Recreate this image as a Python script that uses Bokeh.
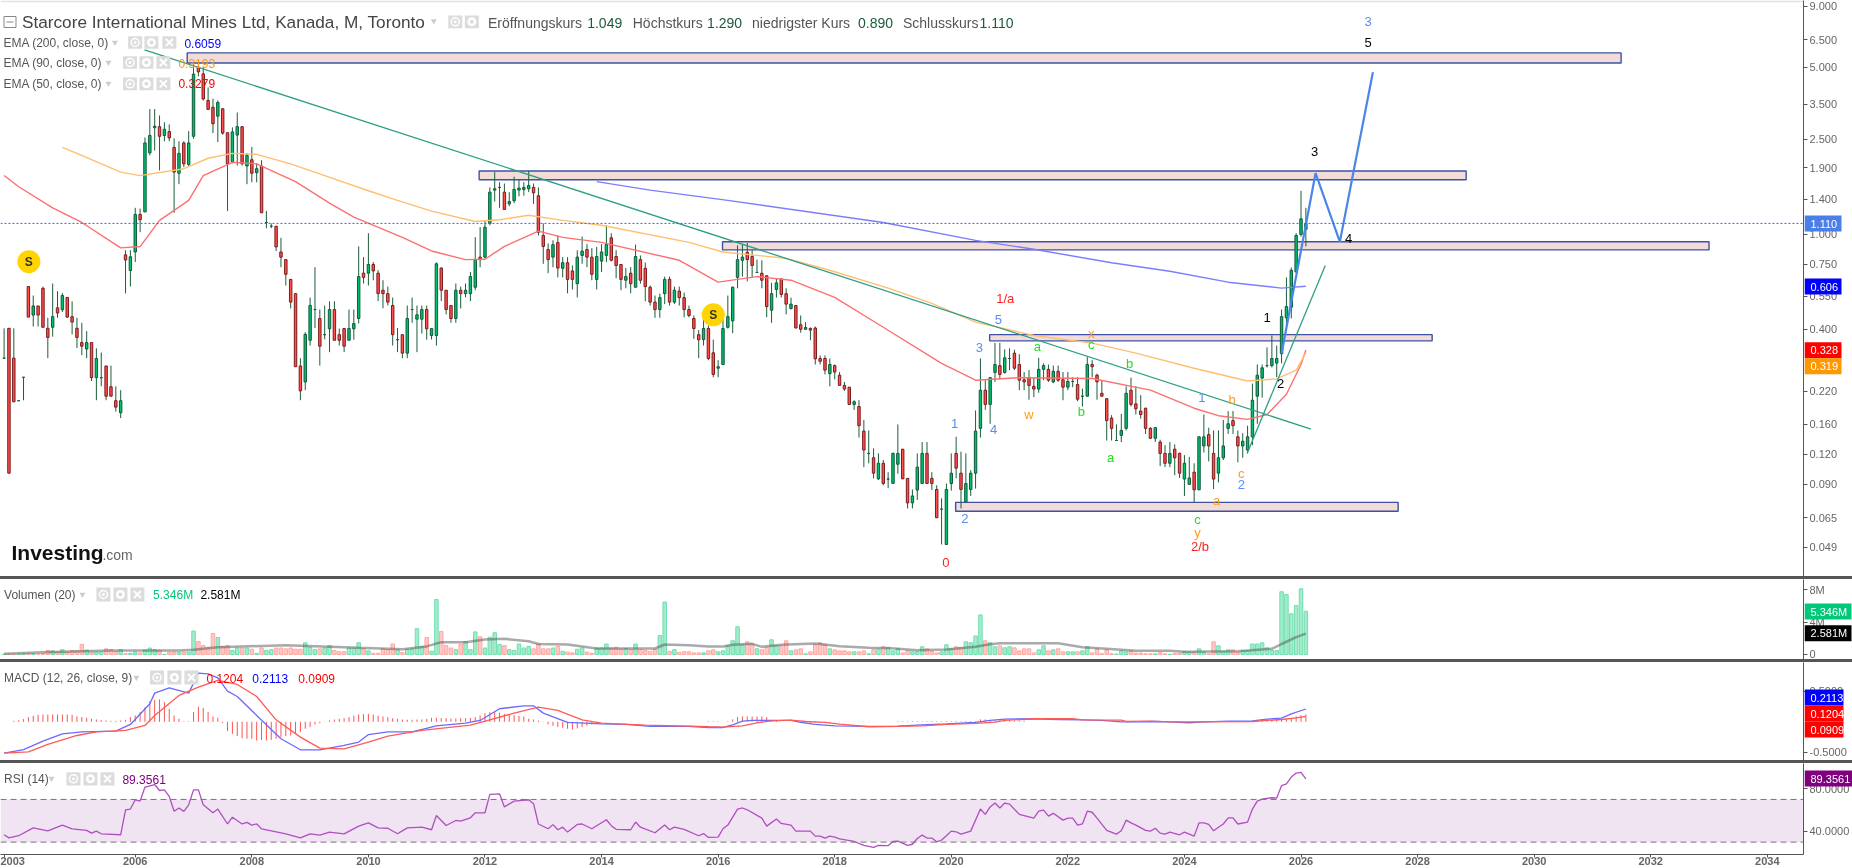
from bokeh.embed import file_html
from bokeh.resources import INLINE
from bokeh.plotting import figure
from bokeh.layouts import column
from bokeh.models import (ColumnDataSource, Range1d, LinearScale, FixedTicker, PrintfTickFormatter,
                          Label, Span, Div, BoxAnnotation)
from bokeh.core.properties import value

# ---------- monthly candles (bar number, one value per month) ----------
opens = [.303,.404,.303,.201,.252,.604,.459,.501,.594,.404,
 .408,.492,.483,.544,.452,.404,.352,.331,.352,.251,
 .251,.281,.230,.201,.179,.820,.705,.843,1.21,1.24,
 2.19,2.79,2.82,2.59,2.69,2.31,1.80,2.41,1.96,2.57,
 5.00,4.69,3.63,3.40,3.12,3.35,2.66,2.01,2.60,2.82,
 1.93,2.05,1.81,1.93,1.12,1.08,1.08,.843,.783,.647,
 .564,.281,.241,.360,.484,.444,.380,.402,.484,.380,
 .403,.360,.402,.444,.687,.687,.747,.687,.583,.564,
 .503,.362,.380,.318,.484,.441,.441,.484,.377,.377,
 .722,.583,.503,.444,.583,.564,.564,.600,.802,.802,
 1.11,1.53,1.57,1.50,1.34,1.38,1.53,1.54,1.55,1.57,
 1.45,.988,.863,.802,.923,.720,.760,.702,.621,.815,
 .863,.802,.647,.772,.815,.966,.807,.747,.642,.687,
 .600,.783,.720,.600,.520,.484,.564,.647,.520,.578,
 .543,.484,.444,.380,.362,.403,.319,.275,.285,.408,
 .434,.660,.778,.840,.807,.692,.687,.670,.481,.587,
 .650,.564,.489,.503,.418,.400,.403,.405,.302,.302,
 .261,.282,.257,.233,.229,.194,.190,.150,.121,.116,
 .0947,.110,.0945,.0906,.109,.126,.0951,.0751,.085,.0906,
 .121,.0951,.0855,.0707,.0503,.0905,.121,.100,.0759,.0855,
 .100,.154,.2225,.194,.264,.282,.264,.302,.318,.285,
 .246,.251,.231,.225,.272,.272,.241,.267,.246,.229,
 .242,.235,.210,.210,.285,.257,.216,.205,.170,.137,
 .144,.154,.2225,.195,.182,.187,.154,.140,.135,.121,
 .110,.126,.121,.0945,.0898,.101,.0852,.130,.145,.121,
 .100,.116,.154,.166,.142,.130,.125,.142,.210,.250,
 .282,.282,.289,.316,.447,.495,.695,.998,1.049]
highs = [.404,.404,.404,.201,.252,.604,.554,.501,.604,.447,
 .622,.577,.567,.544,.524,.447,.426,.393,.352,.333,
 .320,.281,.282,.231,.2225,.857,.857,1.29,1.28,2.54,
 3.34,3.34,3.14,2.94,2.88,2.52,2.45,2.45,2.70,5.16,
 5.24,5.00,4.11,3.69,3.63,3.36,2.66,2.80,3.23,2.82,
 2.18,2.32,1.98,2.04,1.25,1.11,1.08,.966,.783,.649,
 .566,.303,.389,.543,.728,.484,.503,.524,.524,.403,
 .403,.484,.484,.890,.802,1.01,.765,.707,.642,.604,
 .543,.405,.380,.503,.543,.503,.503,.503,.404,.762,
 .725,.583,.503,.622,.604,.622,.695,.972,1.07,1.14,
 1.57,1.82,1.65,1.63,1.50,1.74,1.70,1.65,1.84,1.63,
 1.57,1.11,.915,.943,.988,.802,.802,.740,.857,.978,
 .909,.875,.885,.909,1.09,1.01,.857,.749,.722,.728,
 .905,.815,.762,.610,.554,.564,.665,.665,.604,.604,
 .570,.503,.457,.397,.444,.415,.362,.297,.465,.554,
 .604,.898,.909,.920,.857,.783,.778,.672,.626,.654,
 .654,.594,.543,.503,.457,.429,.408,.411,.311,.311,
 .302,.285,.265,.241,.229,.202,.202,.167,.151,.127,
 .121,.1135,.101,.122,.160,.126,.0951,.0855,.121,.135,
 .135,.101,.089,.0785,.0905,.121,.142,.123,.121,.103,
 .183,.302,.245,.252,.351,.351,.330,.333,.329,.315,
 .265,.270,.251,.304,.288,.285,.282,.282,.265,.265,
 .252,.252,.226,.306,.297,.261,.243,.206,.175,.160,
 .177,.231,.251,.231,.212,.188,.156,.156,.138,.131,
 .135,.132,.122,.119,.117,.110,.142,.176,.155,.151,
 .151,.167,.182,.182,.151,.147,.158,.237,.285,.285,
 .336,.377,.342,.484,.660,.725,1.01,1.52,1.29]
lows = [.303,.100,.199,.201,.202,.450,.411,.411,.408,.303,
 .373,.447,.473,.447,.381,.334,.312,.303,.243,.202,
 .231,.202,.210,.181,.170,.566,.605,.765,1.02,1.24,
 2.14,2.24,1.85,2.45,2.45,1.23,1.62,1.91,1.92,2.51,
 4.58,3.63,3.32,2.65,2.43,2.61,1.25,1.98,1.94,1.94,
 1.62,1.65,1.65,1.23,1.06,1.06,.851,.728,.610,.489,
 .279,.202,.2225,.342,.405,.282,.363,.321,.360,.342,
 .321,.360,.362,.423,.622,.610,.642,.525,.490,.503,
 .342,.321,.303,.303,.426,.321,.384,.362,.363,.342,
 .525,.462,.426,.426,.489,.544,.525,.583,.728,.790,
 1.09,1.37,1.29,1.27,1.31,1.35,1.44,1.45,1.50,1.34,
 .988,.752,.687,.728,.660,.660,.566,.587,.544,.752,
 .728,.642,.587,.695,.765,.770,.655,.583,.594,.566,
 .600,.621,.524,.503,.447,.447,.510,.503,.510,.503,
 .449,.449,.365,.303,.342,.297,.252,.252,.285,.403,
 .385,.594,.665,.635,.660,.692,.594,.450,.426,.543,
 .544,.462,.484,.405,.387,.400,.360,.285,.285,.259,
 .231,.247,.233,.221,.194,.184,.141,.106,.110,.0951,
 .0936,.089,.0865,.0906,.0995,.0947,.0712,.0712,.0772,.0906,
 .0906,.085,.0651,.0503,.0503,.0845,.0951,.0712,.0759,.0803,
 .0862,.141,.184,.161,.241,.247,.261,.270,.270,.2225,
 .2225,.203,.208,.217,.245,.241,.238,.241,.202,.2225,
 .229,.200,.190,.210,.252,.203,.210,.137,.137,.137,
 .135,.151,.190,.176,.169,.146,.139,.135,.107,.106,
 .106,.098,.0955,.0803,.0898,.0755,.0852,.122,.112,.0858,
 .0915,.1135,.146,.146,.111,.116,.121,.131,.161,.207,
 .277,.277,.252,.288,.403,.444,.693,.978,.89]
closes = [.303,.100,.199,.201,.252,.450,.501,.459,.408,.370,
 .452,.468,.554,.450,.429,.370,.340,.352,.251,.302,
 .251,.210,.210,.189,.201,.780,.805,1.21,1.15,2.41,
 2.59,2.83,2.57,2.75,2.53,1.82,2.18,1.97,2.41,4.68,
 4.78,3.68,3.33,2.90,3.56,2.65,1.97,2.68,2.82,1.97,
 2.14,1.80,1.88,1.23,1.12,1.08,.885,.802,.680,.520,
 .279,.221,.381,.503,.484,.340,.380,.484,.360,.360,
 .340,.403,.423,.665,.660,.747,.702,.564,.564,.520,
 .380,.362,.318,.444,.484,.460,.484,.402,.403,.752,
 .583,.484,.444,.583,.564,.583,.665,.783,.783,1.07,
 1.50,1.55,1.57,1.27,1.37,1.54,1.56,1.57,1.60,1.49,
 1.02,.889,.783,.905,.722,.760,.647,.647,.802,.850,
 .802,.680,.807,.843,.905,.778,.740,.647,.665,.621,
 .807,.642,.604,.520,.484,.543,.647,.520,.583,.543,
 .484,.457,.403,.362,.403,.302,.259,.279,.403,.452,
 .600,.783,.802,.783,.740,.692,.642,.498,.564,.626,
 .560,.510,.510,.405,.400,.407,.397,.301,.294,.270,
 .285,.265,.233,.225,.194,.199,.158,.125,.121,.100,
 .110,.0906,.0945,.121,.121,.0947,.0751,.0803,.106,.121,
 .0906,.0906,.0651,.0707,.0855,.100,.105,.0855,.0905,.100,
 .150,.2225,.194,.251,.285,.259,.304,.302,.275,.245,
 .241,.233,.225,.272,.282,.245,.267,.245,.229,.242,
 .242,.204,.210,.285,.279,.241,.210,.166,.154,.137,
 .151,.216,.194,.186,.176,.154,.140,.155,.121,.110,
 .121,.116,.100,.110,.0955,.0852,.142,.142,.130,.0945,
 .116,.130,.161,.158,.130,.136,.142,.202,.257,.276,
 .282,.302,.302,.452,.498,.707,.988,1.16,1.11]

# ---------- moving averages: (bar, price) vertices ----------
ema50_bar = [0,3,10,16,24,28,32,38,41,47,52,60,67,72,82,88,95,99,103,110,115,123,139,147,155,162,171,181,193,200,209,224,236,245,250,256,260,264,267,268]
ema50_val = [1.76,1.58,1.29,1.12,.877,.888,1.143,1.386,1.76,2.0,1.97,1.66,1.35,1.18,.97,.851,.783,.786,.889,1.03,.97,.925,.778,.63,.665,.642,.544,.408,.288,.245,.251,.249,.2225,.187,.174,.168,.176,.214,.285,.328]
ema90_bar = [12,15,24,28,37,42,47,52,59,66,75,81,88,97,102,108,115,123,141,148,161,170,182,191,200,212,224,233,245,256,262,266,268]
ema90_val = [2.31,2.18,1.82,1.76,1.88,2.08,2.18,2.16,1.97,1.76,1.52,1.386,1.25,1.13,1.15,1.20,1.143,1.09,.925,.843,.793,.707,.595,.514,.429,.377,.35,.318,.275,.243,.248,.27,.319]
ema200_bar = [122,133,149,181,200,212,228,240,252,263,268]
ema200_val = [1.66,1.53,1.386,1.12,.943,.865,.76,.70,.63,.595,.606]

# ---------- drawn objects ----------
zone_start = [37.7,97.8,147.9,202.9,195.9]
zone_end = [332.9,301,351,294,287]
zone_top = [5.74,1.84,.93,.38,.0755]
zone_bottom = [5.21,1.69,.86,.358,.0693]
down_trend_bar = [28.9,269.05]
down_trend_val = [5.91,.153]
up_trend_bar = [255.9,272]
up_trend_val = [.121,.74]
path_bar = [263,270,275,281.8]
path_val = [.317,1.80,.93,4.76]
wave_text = ["1/a","5","3","a","x","c","b","w","b","a","1","1","4","2","0","a","c","y","2/b","b","c","2","2","3","5","3","4","1"]
wave_bar = [206.1,204.7,200.8,212.7,223.8,223.8,231.7,211,221.8,227.8,246.6,195.7,203.7,197.8,193.9,249.6,245.7,245.7,246.2,252.8,254.7,254.7,262.8,280.8,280.8,269.8,276.8,260]
wave_val = [.536,.44,.336,.339,.383,.344,.288,.176,.181,.116,.207,.161,.152,.0645,.0421,.0772,.064,.0566,.0493,.204,.0995,.09,.237,7.79,6.33,2.22,.963,.447]
wave_color = ["#ff2020","#5b8def","#5b8def","#22e022","#ff9a1a","#22e022","#22e022","#ff9a1a","#22e022","#22e022","#5b8def","#5b8def","#5b8def","#5b8def","#ff2020","#ff9a1a","#22e022","#ff9a1a","#ff2020","#ff9a1a","#ff9a1a","#5b8def","#000000","#5b8def","#000000","#000000","#000000","#000000"]
signal_bar = [5.1,146]
signal_val = [.768,.46]
last_price = 1.11

# ---------- volume (millions) ----------
volumes = [.05,.05,.04,.04,.08,.1,.1,.06,.12,.5,
 .45,.3,.6,.3,.5,.45,1.25,.55,.3,.3,
 .3,.7,.6,.35,.6,.1,.15,.3,.2,.55,
 .8,.6,.5,.02,.25,.3,.25,.3,.3,2.9,
 1.6,1.1,.9,2.6,2.1,1.0,1.1,.5,.8,.8,
 .8,.65,.15,.8,.5,.6,.8,.8,.7,.8,
 .65,.65,1.45,.9,.6,.7,.8,1.1,.5,.35,
 .35,.8,.8,1.45,.7,.45,.15,.15,.7,.6,
 1.3,.6,.25,.65,.7,3.2,1.0,2.1,.4,6.8,
 2.85,1.1,.8,.6,1.25,1.6,.6,2.8,2.2,.8,
 2.15,2.7,1.25,1.1,.6,.5,1.3,.8,1.0,.7,
 1.3,.7,.7,.8,1.0,.4,.3,.2,.65,.8,
 .3,.15,.8,.8,1.3,.8,.9,.65,.75,.6,
 1.3,.6,.5,.4,.65,2.35,6.5,.4,.6,.25,
 .35,.33,.2,.2,.2,.45,.58,.33,.45,1.07,
 1.7,3.43,1.2,1.57,1.32,.7,.58,.87,1.82,1.1,
 1.07,1.7,.45,.58,.7,.08,.33,1.2,1.45,1.2,
 .7,.58,.45,.45,.33,.33,.33,.45,.08,.62,
 .66,.95,.83,.45,.7,.2,.45,.33,.33,.95,
 .7,.37,.2,.33,1.2,.7,.95,.87,1.57,1.45,
 2.3,4.9,1.7,1.45,.95,1.07,.83,.95,.83,.45,
 .7,.7,.2,.58,1.07,.45,.58,.7,.33,.33,
 .33,.33,.45,.95,.2,.7,.1,.58,.1,.05,
 .45,.33,.45,.17,.17,.08,.08,.08,.25,.08,
 .03,.15,.15,.37,.3,.3,.7,.3,.08,1.57,
 1.07,.4,.58,.58,.25,.5,.5,1.3,1.3,1.45,
 .83,.5,.5,7.77,7.44,5.04,6.07,8.14,5.346]
vol_avg_bar = [0,8,22,36,39,44,58,73,82,87,90,95,99,103,108,110,116,122,134,136,141,145,148,150,154,156,160,167,172,178,182,188,194,200,203,205,217,222,227,233,240,243,254,261,263,266,268]
vol_avg_val = [.08,.28,.5,.5,.58,.9,1.15,.83,.66,1.0,1.53,1.53,1.86,1.94,1.65,1.3,1.24,.74,.74,1.24,1.16,1.0,1.0,1.2,1.32,.95,1.2,1.36,1.03,.83,.79,.54,.62,.95,1.28,1.4,1.4,.9,.7,.45,.45,.33,.4,.7,1.3,2.15,2.581]

# ---------- MACD ----------
macd_bar = [0,4,8,12,16,23,26,30,31,34,38,40,42,44,46,48,52,57,61,65,70,73,75,79,84,89,95,98,102,107,109,111,116,123,128,133,141,145,148,150,152,154,158,162,164,167,171,178,184,189,194,200,203,206,212,217,222,226,230,237,240,244,246,252,257,260,263,265,268]
macd_val = [-.517,-.46,-.32,-.2,-.165,-.154,-.044,.297,.473,.561,.473,.803,.792,.726,.506,.418,.105,-.28,-.462,-.462,-.39,-.335,-.21,-.165,-.165,-.066,-.022,.022,.215,.264,.264,.143,-.011,-.033,-.044,-.077,-.077,-.094,-.094,-.05,.011,.022,.022,.022,-.011,-.044,-.066,-.077,-.072,-.05,-.033,-.011,.022,.044,.05,.038,.033,.022,0,.005,0,-.016,-.005,.011,.016,.044,.06,.13,.2113]
sig_bar = [0,5,9,15,19,25,29,31,36,40,44,48,52,56,61,65,70,75,79,86,96,100,105,110,114,119,123,132,141,145,148,152,155,158,162,165,169,172,178,184,189,194,200,204,206,212,220,222,230,231,236,240,244,257,260,263,266,268]
sig_val = [-.517,-.495,-.374,-.226,-.165,-.143,-.06,.105,.435,.572,.682,.616,.418,.033,-.253,-.435,-.446,-.335,-.237,-.143,-.055,.033,.143,.242,.187,.033,-.022,-.055,-.07,-.082,-.088,-.066,-.016,.016,.027,.005,-.011,-.038,-.082,-.077,-.066,-.044,-.027,-.005,.022,.05,.05,.033,.027,.005,.011,0,0,.005,.022,.038,.066,.0909]
hist_val = [0,0,.016,.027,.044,.077,.1,.115,.12,.12,
 .12,.12,.12,.12,.115,.09,.08,.066,.05,.038,
 .027,.022,.016,.016,.022,.033,.077,.105,.16,.24,
 .34,.36,.37,.325,.215,.105,.05,.01,.01,.16,
 .25,.23,.16,.088,.066,-.022,-.154,-.2,-.237,-.27,
 -.28,-.28,-.31,-.3,-.31,-.3,-.28,-.25,-.237,-.225,
 -.2,-.17,-.115,-.088,-.044,-.022,-.005,.022,.038,.05,
 .06,.077,.1,.12,.126,.13,.12,.1,.088,.077,
 .06,.05,.038,.033,.033,.038,.038,.05,.066,.066,
 .06,.06,.055,.055,.06,.06,.066,.077,.105,.143,
 .16,.176,.15,.13,.12,.11,.1,.088,.05,.038,
 .02,-.005,-.044,-.066,-.088,-.1,-.115,-.127,-.11,-.088,
 -.066,-.044,-.022,0,0,0,0,0,0,.005,
 0,0,0,.005,.005,.005,0,0,0,0,
 0,0,0,0,0,.01,.01,.01,0,.01,
 .04,.077,.088,.088,.088,.088,.088,.077,.03,.02,
 0,0,0,0,0,-.015,-.015,-.015,-.015,-.02,
 -.02,-.005,-.005,-.005,-.005,-.005,-.005,-.005,-.005,0,
 0,0,0,0,.01,.01,.01,.01,.01,.01,
 .01,.01,.01,.01,.01,.01,.01,.01,.01,.01,
 .01,.04,.04,.025,.025,.025,.025,.025,.02,.02,
 .02,0,0,0,0,0,0,0,0,0,
 0,0,0,0,0,0,0,0,0,0,
 0,0,0,0,0,0,0,0,0,0,
 0,0,0,0,0,0,0,0,.01,.01,
 .01,.01,.01,0,0,0,0,0,.02,.02,
 .03,.03,.03,.035,.05,.06,.09,.11,.1204]

# ---------- RSI ----------
rsi_bar = [0,1,3,6,9,12,14,17,18,19,20,24,25,26,27,28,29,31,32,33,34,35,36,37,38,39,40,41,43,44,46,47,49,50,51,52,53,58,61,63,65,67,70,73,75,77,79,81,83,86,88,89,91,93,94,96,97,99,100,102,103,105,108,109,110,112,113,114,115,116,118,119,121,124,125,126,129,130,131,134,136,137,138,140,143,144,145,147,148,149,151,152,153,156,157,159,160,162,163,166,167,168,169,170,171,172,175,177,179,180,182,183,184,186,187,188,189,190,191,192,193,194,195,196,197,199,201,202,203,204,205,206,207,209,212,213,214,215,216,218,219,220,221,222,223,224,225,227,229,230,231,232,233,235,236,237,238,239,240,242,243,245,246,247,248,249,250,251,252,253,254,256,257,258,259,261,262,263,264,265,266,267,268]
rsi_val = [36.9,34,36,43.4,40.6,46,42.5,41,38.4,40.3,37.8,36.9,60.3,61,69.7,68.4,81.6,84,78.4,79,72.8,59,62,58.8,65,79,79,65,57.5,61,47,53.4,47,48.5,46,47,42.5,37.8,34,37.8,36.5,39.4,37.8,45,48,43.4,43,37.8,43.4,44,41.6,55,45.6,50.3,49.7,52.8,57.5,57.5,74.7,75.3,63,68.4,69.7,66,47,42.5,46.4,41.6,44,39.4,46.6,47,42.5,51,45.4,42,41.6,48.8,44,38.8,46,41.6,44,41.9,36,38,34.4,34.7,42.5,46,61,62,60.3,52.5,45,51.6,47.5,46,40.3,40.3,35.6,35.6,33.8,35.6,34.7,33,30.6,27,25,27,26.7,30.6,31,27,28,33.4,36.6,33.8,33.8,30.3,32,36,40.3,39.7,37.5,40.3,61,56,63,66.6,62,66.6,65.6,56,52.5,59,60,54.4,57,50.6,52.5,52.5,46,47,59,58,52.5,41,37.5,40.6,50.6,48,46,41,40.3,43,38.4,37.5,39.4,36.9,39.4,35.6,48,48,46.6,40.6,44,47,52.8,52.8,47,48.8,61,68.4,70.3,71.6,71.3,83,84.7,91,94.7,95.3,89.3561]

# ---------- axes ----------
year_bars = [0,27,51,75,99,123,147,171,195,219,243,267,291,315,339,363]
year_labels = ["2003","2006","2008","2010","2012","2014","2016","2018","2020","2022","2024","2026","2028","2030","2032","2034"]
price_ticks = [9,6.5,5,3.5,2.5,1.9,1.4,1.0,.75,.55,.4,.22,.16,.12,.09,.065,.049]
volume_ticks = [0,4,8]
volume_tick_labels = ["0","4M","8M"]
macd_ticks = [.5,-.5]
rsi_ticks = [80,40]

# ---------- price tags at the right edge ----------
tag_text = ["1.110","0.606","0.328","0.319","5.346M","2.581M","0.2113","0.1204","0.0909","89.3561"]
tag_color = ["#4a7ee8","#0000ff","#ff0000","#ff9800","#00c878","#000000","#0000ff","#ff0000","#ff0000","#800080"]

FONT = "Liberation Sans"
GREY = "#555555"
W = 1852
H = 868
FRAME_W = 1804
x_range = Range1d(-0.741, 370.45)
bars = list(range(len(closes)))


def pane(top, bottom, h, y_range, y_type="linear", ticks=(), min_bottom=0):
    p = figure(width=W, height=h, x_range=x_range, y_range=y_range, y_axis_type=y_type,
               x_axis_location="below" if min_bottom else None, y_axis_location="right",
               output_backend="svg", toolbar_location=None, tools="",
               min_border_left=0, min_border_right=W - FRAME_W, min_border_top=0, min_border_bottom=min_bottom)
    p.grid.visible = False
    p.outline_line_color = None
    p.background_fill_color = "white"
    p.border_fill_color = "white"
    p.extra_x_ranges = {"px": Range1d(0, FRAME_W)}
    p.extra_y_ranges = {"px": Range1d(bottom, top)}
    p.extra_x_scales = {"px": LinearScale()}
    p.extra_y_scales = {"px": LinearScale()}
    ax = p.yaxis[0]
    ax.ticker = FixedTicker(ticks=list(ticks))
    ax.axis_line_color = GREY
    ax.major_tick_line_color = GREY
    ax.minor_tick_line_color = None
    ax.major_tick_in = 0
    ax.major_tick_out = 4
    ax.major_label_standoff = 2
    ax.major_label_text_color = "#666666"
    ax.major_label_text_font = FONT
    ax.major_label_text_font_size = "11px"
    return p


def lab(p, x, y, t, color="#555555", size=12, bold=False, align="left"):
    p.add_layout(Label(x=x, y=y, x_range_name="px", y_range_name="px", text=t, text_color=color,
                       text_font=FONT, text_font_size=f"{size}px",
                       text_font_style="bold" if bold else "normal",
                       text_baseline="middle", text_align=align))


def icons(p, lefts, top, bottom, w, kinds="cgx"):
    for l, k in zip(lefts, kinds):
        p.quad(left=[l], right=[l + w], top=[top], bottom=[bottom], fill_color="#dcdcdc", line_color=None,
               x_range_name="px", y_range_name="px")
        cx, cy = l + w / 2, (top + bottom) / 2
        if k == "c":
            p.scatter([cx], [cy], marker="circle", size=8, fill_color=None, line_color="white", line_width=1.5,
                      x_range_name="px", y_range_name="px")
            p.scatter([cx], [cy], marker="circle", size=3, fill_color="white", line_color=None,
                      x_range_name="px", y_range_name="px")
        elif k == "g":
            p.scatter([cx], [cy], marker="circle", size=9, fill_color="white", line_color=None,
                      x_range_name="px", y_range_name="px")
            p.scatter([cx], [cy], marker="circle", size=4, fill_color="#dcdcdc", line_color=None,
                      x_range_name="px", y_range_name="px")
        else:
            p.scatter([cx], [cy], marker="x", size=10, line_color="white", line_width=2,
                      x_range_name="px", y_range_name="px")


def tri(p, x, y):
    p.scatter([x], [y], marker="inverted_triangle", size=6, fill_color="#cccccc", line_color=None,
              x_range_name="px", y_range_name="px")


# ===================== price pane =====================
p1 = pane(0, 576, 576, Range1d(.03695, 9.51), "log", price_ticks)
p1.yaxis[0].formatter = PrintfTickFormatter(format="%.3f")
p1.quad(left=[0], right=[W], top=[0], bottom=[1.7], fill_color="#e2e2ea", line_color=None,
        x_range_name="px", y_range_name="px")

p1.quad(left=zone_start, right=zone_end, top=zone_top, bottom=zone_bottom,
        fill_color="#f2dcd8", line_color="#3f51a5", line_width=1.4)

up = [c >= o for o, c in zip(opens, closes)]
src = ColumnDataSource(dict(x=bars, o=opens, h=highs, l=lows, c=closes,
                            top=[max(o, c) for o, c in zip(opens, closes)],
                            bot=[min(o, c) for o, c in zip(opens, closes)],
                            fill=["#00bf6f" if u else "#ff4f4f" for u in up],
                            edge=["#0c5c39" if u else "#7d1a1a" for u in up]))
p1.segment("x", "h", "x", "l", source=src, line_color="#1b5e3b", line_width=1)
p1.vbar(x="x", top="top", bottom="bot", width=0.5, source=src, fill_color="fill", line_color="edge", line_width=1)

p1.line(ema50_bar, ema50_val, line_color="#ff6f6f", line_width=1.4)
p1.line(ema90_bar, ema90_val, line_color="#ffbf70", line_width=1.4)
p1.line(ema200_bar, ema200_val, line_color="#7d7dff", line_width=1.4)
p1.line(down_trend_bar, down_trend_val, line_color="#2f9e86", line_width=1.3)
p1.line(up_trend_bar, up_trend_val, line_color="#2f9e86", line_width=1.3)
p1.line(path_bar, path_val, line_color="#4a86e8", line_width=2.2)
p1.add_layout(Span(location=last_price, dimension="width", line_color="#2962ff", line_width=1, line_dash="2 2"))

wsrc = ColumnDataSource(dict(x=wave_bar, y=wave_val, t=wave_text, c=wave_color))
p1.text("x", "y", text="t", text_color="c", source=wsrc, text_font=value(FONT), text_font_size=value("13px"),
        text_align="center", text_baseline="middle")

p1.scatter(signal_bar, signal_val, marker="circle", size=23, fill_color="#ffd400", line_color=None)
p1.text(signal_bar, signal_val, text=value("S"), text_color="#333333", text_font=value(FONT),
        text_font_size=value("12px"), text_font_style="bold", text_align="center", text_baseline="middle")

# header
p1.quad(left=[3.5], right=[15.5], top=[16], bottom=[27], fill_color=None, line_color="#888888", line_width=1,
        x_range_name="px", y_range_name="px")
p1.segment([6], [21.5], [13], [21.5], line_color="#888888", line_width=1, x_range_name="px", y_range_name="px")
lab(p1, 21.5, 21, "Starcore International Mines Ltd, Kanada, M, Toronto", color="#444444", size=17.2)
tri(p1, 433.5, 20.5)
icons(p1, [448, 464.6], 15, 27.7, 14, "cg")
for x, t, col in [(487.8, "Eröffnungskurs", "#555555"), (587, "1.049", "#1a5c3a"),
                  (632.6, "Höchstkurs", "#555555"), (707, "1.290", "#1a5c3a"),
                  (752, "niedrigster Kurs", "#555555"), (858, "0.890", "#1a5c3a"),
                  (903, "Schlusskurs", "#555555"), (979.6, "1.110", "#1a5c3a")]:
    lab(p1, x, 22, t, color=col, size=14)
lab(p1, 3, 42, "EMA (200, close, 0)")
tri(p1, 114.5, 42)
icons(p1, [127.7, 144, 162], 35.7, 48.3, 14)
lab(p1, 184, 42.5, "0.6059", color="#0000ff")
lab(p1, 3, 62, "EMA (90, close, 0)")
tri(p1, 108, 62)
icons(p1, [122.6, 139, 156], 55.7, 68.3, 14)
lab(p1, 178, 62.5, "0.3193", color="#ff9800")
lab(p1, 3, 83, "EMA (50, close, 0)")
tri(p1, 108, 83)
icons(p1, [122.6, 139, 156], 77, 89.7, 14)
lab(p1, 178, 83, "0.3279", color="#ff0000")
lab(p1, 11, 552, "Investing", color="#111111", size=21, bold=True)
lab(p1, 102, 554, ".com", color="#666666", size=14)

# ===================== volume pane =====================
p2 = pane(579, 659, 80, Range1d(-.62, 9.29), "linear", volume_ticks)
p2.yaxis[0].major_label_overrides = dict(zip(volume_ticks, volume_tick_labels))
vsrc = ColumnDataSource(dict(x=bars, v=volumes,
                             fill=["#a2ecca" if u else "#ffc8c4" for u in up],
                             edge=["#6fdfb0" if u else "#ffa8a2" for u in up]))
p2.vbar(x="x", top="v", bottom=0, width=0.72, source=vsrc, fill_color="fill", line_color="edge", line_width=1)
p2.line(vol_avg_bar, vol_avg_val, line_color="#555555", line_alpha=0.5, line_width=2.5)
lab(p2, 3.6, 594, "Volumen (20)")
tri(p2, 82, 594)
icons(p2, [96, 113, 130], 587, 601, 14)
lab(p2, 152.7, 594, "5.346M", color="#00c878")
lab(p2, 200, 594, "2.581M", color="#000000")

# ===================== MACD pane =====================
p3 = pane(662, 760, 98, Range1d(-.6386, .9785), "linear", macd_ticks)
p3.yaxis[0].formatter = PrintfTickFormatter(format="%.4f")
p3.segment(bars, [0] * len(bars), bars, hist_val, line_color="#ff5252", line_width=1)
p3.line(macd_bar, macd_val, line_color="#6a6aff", line_width=1.3)
p3.line(sig_bar, sig_val, line_color="#ff5a5a", line_width=1.3)
lab(p3, 3.6, 677.3, "MACD (12, 26, close, 9)")
tri(p3, 136, 677)
icons(p3, [149.6, 167, 184], 670, 684, 14)
lab(p3, 206, 677.5, "0.1204", color="#ff0000")
lab(p3, 252, 677.5, "0.2113", color="#0000ff")
lab(p3, 298, 677.5, "0.0909", color="#ff0000")

# ===================== RSI pane =====================
p4 = pane(763, 854, 105, Range1d(18.4, 103.7), "linear", rsi_ticks, min_bottom=14)
p4.yaxis[0].formatter = PrintfTickFormatter(format="%.4f")
p4.add_layout(BoxAnnotation(bottom=30, top=70, fill_color="#f0e4f2", fill_alpha=1, line_color=None, level="underlay"))
for lvl in (70, 30):
    p4.add_layout(Span(location=lvl, dimension="width", line_color="#7f6f80", line_width=1, line_dash="6 4"))
p4.line(rsi_bar, rsi_val, line_color="#b04fc0", line_width=1.3)
xa = p4.xaxis[0]
xa.ticker = FixedTicker(ticks=year_bars)
xa.major_label_overrides = dict(zip(year_bars, year_labels))
xa.axis_line_color = GREY
xa.major_tick_line_color = GREY
xa.minor_tick_line_color = None
xa.major_tick_in = 0
xa.major_tick_out = 3
xa.major_label_standoff = -1
xa.major_label_text_color = "#666666"
xa.major_label_text_font = FONT
xa.major_label_text_font_size = "11px"
xa.major_label_text_font_style = "bold"
lab(p4, 3.6, 778.3, "RSI (14)")
tri(p4, 51, 778)
icons(p4, [66, 83, 100], 771.7, 785, 14)
lab(p4, 122, 778.5, "89.3561", color="#800080")

# ===================== tags over the right axes =====================
tag_left = [FRAME_W] * len(tag_text)
tag_right = [1841, 1841, 1841, 1841, 1851, 1851, 1843, 1843, 1843, 1852]
tag_mid = [223, 286, 349.7, 365.7, 611, 632.8, 697, 713, 729, 778]
ov = figure(width=48, height=H, x_range=Range1d(FRAME_W, W), y_range=Range1d(H, 0), x_axis_location=None,
            y_axis_location=None, output_backend="svg", toolbar_location=None, tools="",
            min_border_left=0, min_border_right=0, min_border_top=0, min_border_bottom=0,
            background_fill_color=None, border_fill_color=None, outline_line_color=None,
            styles={"position": "fixed", "left": f"{FRAME_W}px", "top": "0px"})
ov.grid.visible = False
ov.quad(left=tag_left, right=tag_right, top=[m - 8 for m in tag_mid], bottom=[m + 8 for m in tag_mid],
        fill_color=tag_color, line_color=None)
ov.text([l + 6 for l in tag_left], tag_mid, text=tag_text, text_color="white", text_font=value(FONT),
        text_font_size=value("11px"), text_align="left", text_baseline="middle")


def sep():
    return Div(text="", width=W, height=3, margin=(0, 0, 0, 0), styles={"background-color": GREY})


root = column(p1, sep(), p2, sep(), p3, sep(), p4, spacing=0,
              styles={"position": "fixed", "left": "0px", "top": "0px"})
open("out.html", "w").write(file_html([root, ov], INLINE))
